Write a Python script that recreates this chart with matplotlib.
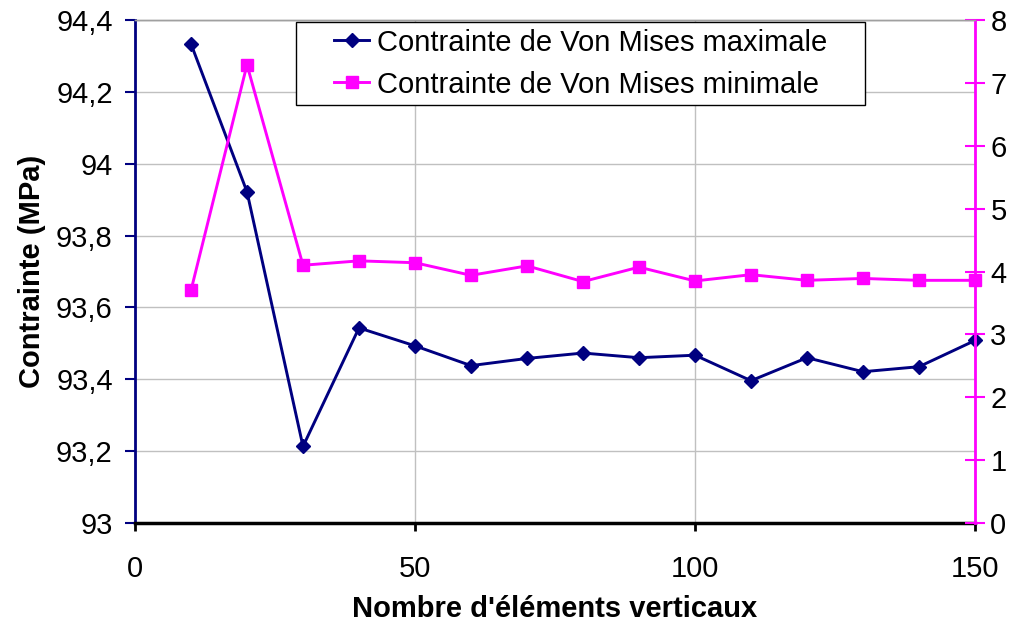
import matplotlib.pyplot as plt
from matplotlib.patches import Rectangle
from matplotlib.ticker import FuncFormatter

plt.rcParams['font.family'] = ['Liberation Sans', 'DejaVu Sans']

# Nombre d'éléments verticaux
elements = [10, 20, 30, 40, 50, 60, 70, 80, 90, 100, 110, 120, 130, 140, 150]
# Contrainte de Von Mises maximale (MPa), axe de gauche
vm_max = [94.334, 93.922, 93.213, 93.543, 93.493, 93.438, 93.458, 93.473,
          93.460, 93.467, 93.396, 93.460, 93.421, 93.435, 93.508]
# Contrainte de Von Mises minimale (MPa), axe de droite
vm_min = [3.70, 7.29, 4.10, 4.17, 4.14, 3.94, 4.09, 3.84, 4.07, 3.85,
          3.95, 3.86, 3.89, 3.86, 3.86]

navy = '#000080'
magenta = '#FF00FF'
FS = 21


def virgule(v, pos):
    txt = ('%.1f' % v).rstrip('0').rstrip('.')
    return txt.replace('.', ',')


fig = plt.figure(figsize=(10.15, 6.3), dpi=100)
ax = fig.add_axes([0.133, 0.170, 0.8276, 0.798])
ax2 = ax.twinx()

l1, = ax.plot(elements, vm_max, color=navy, lw=2.1, marker='D', ms=7,
              clip_on=False, zorder=3)
l2, = ax2.plot(elements, vm_min, color=magenta, lw=2.1, marker='s', ms=8,
               clip_on=False, zorder=3)

ax.set_xlim(0, 150)
ax.set_ylim(93, 94.4)
ax2.set_ylim(0, 8)
ax.set_xticks([0, 50, 100, 150])
ax.set_yticks([93, 93.2, 93.4, 93.6, 93.8, 94, 94.2, 94.4])
ax2.set_yticks(range(0, 9))
ax.yaxis.set_major_formatter(FuncFormatter(virgule))

ax.grid(True, color='#c0c0c0', lw=1)
ax.set_axisbelow(True)

# axes et graduations
for a in (ax, ax2):
    a.spines['top'].set_color('#a0a0a0')
    a.spines['top'].set_linewidth(1)
ax.spines['left'].set_color(navy)
ax.spines['left'].set_linewidth(2)
ax.spines['bottom'].set_color('black')
ax.spines['bottom'].set_linewidth(2.5)
ax.spines['right'].set_visible(False)
ax2.spines['left'].set_visible(False)
ax2.spines['bottom'].set_visible(False)
ax2.spines['right'].set_color(magenta)
ax2.spines['right'].set_linewidth(2)

ax.tick_params(axis='y', direction='out', length=7, width=1.5,
               color=navy, labelsize=FS, pad=9)
ax.tick_params(axis='x', direction='out', length=6, width=2,
               color='black', labelsize=FS, pad=17)
ax2.tick_params(axis='y', direction='inout', length=14, width=1.5,
                color=magenta, labelsize=FS, pad=4)

ax.set_xlabel("Nombre d'éléments verticaux", fontsize=FS,
              fontweight='bold', labelpad=9)
ax.set_ylabel('Contrainte (MPa)', fontsize=FS, fontweight='bold',
              labelpad=7)

leg = ax2.legend([l1, l2], ['Contrainte de Von Mises maximale',
                            'Contrainte de Von Mises minimale'],
                 loc='upper left', bbox_to_anchor=(0.2298, 0.996),
                 fontsize=FS, frameon=False, borderpad=0.22,
                 labelspacing=0.48, handlelength=1.2, handletextpad=0.25,
                 borderaxespad=0)
leg.set_zorder(6)

# cadre blanc de la légende, élargi sur les côtés
fig.canvas.draw()
bb = leg.get_window_extent().transformed(ax2.transAxes.inverted())
dx = 32 / (ax2.bbox.width)
frame = Rectangle((bb.x0 - dx, bb.y0), bb.width + 2 * dx, bb.height,
                  transform=ax2.transAxes, facecolor='white',
                  edgecolor='black', lw=1, zorder=5, clip_on=False)
ax2.add_patch(frame)

fig.savefig('out.png', dpi=100)
